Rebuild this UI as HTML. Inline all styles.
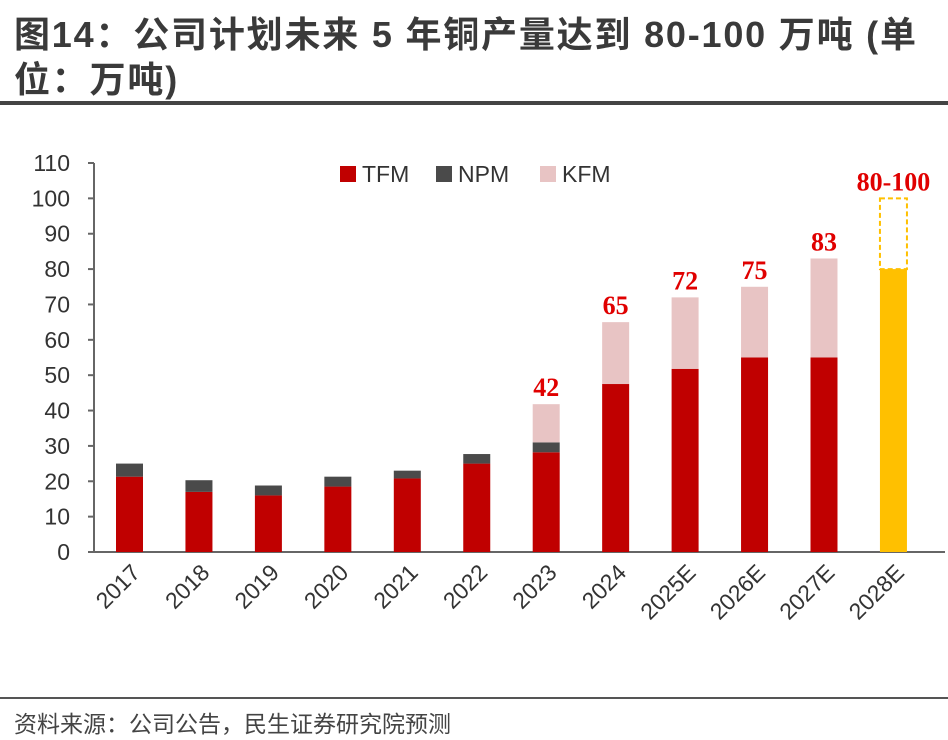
<!DOCTYPE html>
<html><head><meta charset="utf-8">
<style>
body{margin:0;width:948px;height:740px;background:#fff;overflow:hidden;font-family:"Liberation Sans","Noto Sans CJK SC",sans-serif;}
#title{position:absolute;left:14px;top:12px;width:940px;font-size:36px;font-weight:bold;color:#3a3a3a;line-height:45px;letter-spacing:1.8px;white-space:nowrap;}
#topline{position:absolute;left:0;top:101px;width:948px;height:4px;background:#444;}
#botline{position:absolute;left:0;top:697px;width:948px;height:2px;background:#555;}
#source{position:absolute;left:14px;top:705px;font-size:23px;color:#444;}
svg{position:absolute;left:0;top:0;}
</style></head><body>
<div id="title">图14：公司计划未来 5 年铜产量达到 80-100 万吨 (单<br>位：万吨)</div>
<div id="topline"></div>
<svg id="chart" width="948" height="740"></svg>
<div id="botline"></div>
<div id="source">资料来源：公司公告，民生证券研究院预测</div>
<script>
const categories=["2017","2018","2019","2020","2021","2022","2023","2024","2025E","2026E","2027E","2028E"];
const tfm=[21.3,17,16,18.5,20.8,25,28.2,47.5,51.8,55,55,0];
const npm=[3.7,3.3,2.8,2.8,2.2,2.7,2.8,0,0,0,0,0];
const kfm=[0,0,0,0,0,0,10.8,17.5,20.2,20,28,0];
const target=[0,0,0,0,0,0,0,0,0,0,0,80];
const targetHigh=[0,0,0,0,0,0,0,0,0,0,0,100];
const totalLabels=["","","","","","","42","65","72","75","83","80-100"];
const yTicks=[0,10,20,30,40,50,60,70,80,90,100,110];

const NS="http://www.w3.org/2000/svg";
const svg=document.getElementById('chart');
const y0=552,yTop=163,yMax=110;
const y=v=>y0-(v/yMax)*(y0-yTop);
const x=i=>129.5+i*69.45;
const bw=27;
function el(t,a,txt){const e=document.createElementNS(NS,t);for(const k in a)e.setAttribute(k,a[k]);if(txt!==undefined)e.textContent=txt;svg.appendChild(e);return e;}

let ax=el('line',{x1:94,y1:y0,x2:945,y2:y0,stroke:'#666','stroke-width':2});


let ay=el('line',{x1:94,y1:yTop,x2:94,y2:y0,stroke:'#666','stroke-width':2});


yTicks.forEach(t=>{
  let tk=el('line',{x1:88,y1:y(t),x2:94,y2:y(t),stroke:'#666','stroke-width':2});
  
  
  let lb=el('text',{x:70,y:y(t)+8,'text-anchor':'end','font-size':23,fill:'#333'},t);
  
  
});
categories.forEach((c,i)=>{
  let cx=x(i),bx=cx-bw/2,base=0;
  if(tfm[i]>0){let r=el('rect',{x:bx,y:y(tfm[i]),width:bw,height:y(0)-y(tfm[i]),fill:'#c00000'});
    base=tfm[i];}
  if(npm[i]>0){let r=el('rect',{x:bx,y:y(base+npm[i]),width:bw,height:y(base)-y(base+npm[i]),fill:'#4a4a4a'});
    base+=npm[i];}
  if(kfm[i]>0){let r=el('rect',{x:bx,y:y(base+kfm[i]),width:bw,height:y(base)-y(base+kfm[i]),fill:'#e8c4c4'});
    base+=kfm[i];}
  if(target[i]>0){let r=el('rect',{x:bx,y:y(target[i]),width:bw,height:y(0)-y(target[i]),fill:'#ffc000'});
    
    let d=el('rect',{x:bx,y:y(targetHigh[i]),width:bw,height:y(target[i])-y(targetHigh[i]),fill:'none',stroke:'#ffc000','stroke-width':2,'stroke-dasharray':'5,3'});
    base=targetHigh[i];}
  if(totalLabels[i]){let t=el('text',{x:cx,y:y(base)-8,'text-anchor':'middle','font-size':26,'font-weight':'bold',fill:'#e00000','font-family':'Liberation Serif,serif'},totalLabels[i]);
    }
  let xl=el('text',{x:cx+12,y:574,'text-anchor':'end','font-size':23,fill:'#333',transform:`rotate(-45 ${cx+12} 574)`},c);
  
});
const leg=[["TFM","#c00000",340],["NPM","#4a4a4a",436],["KFM","#e8c4c4",540]];
leg.forEach(l=>{
  let r=el('rect',{x:l[2],y:166,width:16,height:16,fill:l[1]});
  
  let t=el('text',{x:l[2]+22,y:182,'font-size':23,fill:'#333'},l[0]);
  
});
</script>
</body></html>
